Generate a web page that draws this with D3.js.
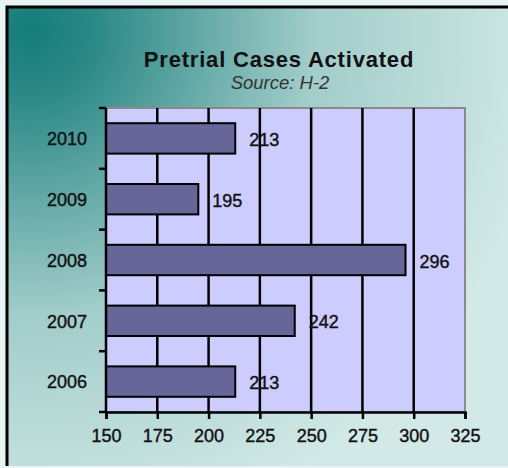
<!DOCTYPE html>
<html>
<head>
<meta charset="utf-8">
<script src="https://cdn.jsdelivr.net/npm/d3@7"></script>
<style>
  body { margin: 0; background: #ffffff; }
  svg { display: block; }
  text { font-family: Arial, "Liberation Sans", sans-serif; }
</style>
</head>
<body>
<div id="chart"></div>
<script>
// chart values
var years = ["2010", "2009", "2008", "2007", "2006"];
var cases = [213, 195, 296, 242, 213];
var xTicks = [150, 175, 200, 225, 250, 275, 300, 325];

var width = 508, height = 468;
var plot = { left: 106, top: 108, right: 465, bottom: 412 };

var svg = d3.select("#chart")
    .append("svg")
    .attr("width", width)
    .attr("height", height);

// background gradient
var defs = svg.append("defs");
var grad = defs.append("radialGradient")
    .attr("id", "bg")
    .attr("gradientUnits", "userSpaceOnUse")
    .attr("cx", 30).attr("cy", 30).attr("r", 520);
grad.append("stop").attr("offset", "0").attr("stop-color", "#157d7a");
grad.append("stop").attr("offset", "0.12").attr("stop-color", "#2a8885");
grad.append("stop").attr("offset", "0.55").attr("stop-color", "#a2cdca");
grad.append("stop").attr("offset", "1").attr("stop-color", "#d2e9e7");

svg.append("rect")
    .attr("x", 0).attr("y", 0)
    .attr("width", width).attr("height", height)
    .style("fill", "#e8f4f3");

svg.append("rect")
    .attr("x", 8).attr("y", 8)
    .attr("width", width - 8).attr("height", 458)
    .style("fill", "url(#bg)");

// outer border (top and left only visible)
svg.append("path")
    .attr("d", "M7,466V7H" + width)
    .style("fill", "none")
    .style("stroke", "#000")
    .style("stroke-width", 3);

// title
svg.append("text")
    .attr("x", 279).attr("y", 67)
    .attr("text-anchor", "middle")
    .style("font-size", "22px")
    .style("font-weight", "bold")
    .style("letter-spacing", "0.8px")
    .style("fill", "#111")
    .text("Pretrial Cases Activated");

svg.append("text")
    .attr("x", 280).attr("y", 89)
    .attr("text-anchor", "middle")
    .style("font-size", "18.5px")
    .style("font-style", "italic")
    .style("fill", "#333")
    .text("Source: H-2");

// scales
var x = d3.scaleLinear()
    .domain([150, 325])
    .range([plot.left, plot.right]);

var y = d3.scaleBand()
    .domain(years)
    .range([plot.top, plot.bottom])
    .paddingInner(0.5)
    .paddingOuter(0.25);

// plot area
svg.append("rect")
    .attr("x", plot.left).attr("y", plot.top)
    .attr("width", plot.right - plot.left)
    .attr("height", plot.bottom - plot.top)
    .style("fill", "#ccccff")
    .style("stroke", "#8a8a8a")
    .style("stroke-width", 2);

// vertical gridlines
svg.selectAll(".grid")
    .data(xTicks.slice(1, -1))
    .enter().append("line")
    .attr("class", "grid")
    .attr("x1", function(d) { return x(d); })
    .attr("x2", function(d) { return x(d); })
    .attr("y1", plot.top)
    .attr("y2", plot.bottom)
    .style("stroke", "#000")
    .style("stroke-width", 2.5);

// bars
svg.selectAll(".bar")
    .data(cases)
    .enter().append("rect")
    .attr("class", "bar")
    .attr("x", x(150))
    .attr("y", function(d, i) { return y(years[i]); })
    .attr("width", function(d) { return x(d) - x(150); })
    .attr("height", y.bandwidth())
    .style("fill", "#666699")
    .style("stroke", "#000")
    .style("stroke-width", 2);

// value labels
svg.selectAll(".val")
    .data(cases)
    .enter().append("text")
    .attr("class", "val")
    .attr("x", function(d) { return x(d) + 14; })
    .attr("y", function(d, i) { return y(years[i]) + y.bandwidth() / 2; })
    .attr("dy", "0.42em")
    .style("font-size", "18px")
    .style("fill", "#111")
    .style("stroke", "#111")
    .style("stroke-width", 0.4)
    .text(function(d) { return d; });

// x axis
var xAxis = svg.append("g")
    .attr("transform", "translate(0," + plot.bottom + ")")
    .call(d3.axisBottom(x).tickValues(xTicks).tickSize(7).tickPadding(10));
xAxis.select(".domain").style("stroke", "#000").style("stroke-width", 2.5);
xAxis.selectAll(".tick line").style("stroke", "#000").style("stroke-width", 2.5);
xAxis.selectAll(".tick text")
    .style("font-size", "18px")
    .style("font-family", "Arial, 'Liberation Sans', sans-serif")
    .style("fill", "#111")
    .style("stroke", "#111")
    .style("stroke-width", 0.4);

// y axis: ticks at band boundaries
var yAxis = svg.append("g")
    .attr("transform", "translate(" + plot.left + ",0)");
yAxis.append("line")
    .attr("x1", 0).attr("x2", 0)
    .attr("y1", plot.top).attr("y2", plot.bottom)
    .style("stroke", "#000")
    .style("stroke-width", 2.5);
var bounds = d3.range(years.length + 1).map(function(i) { return plot.top + i * (plot.bottom - plot.top) / years.length; });
yAxis.selectAll(".ytick")
    .data(bounds)
    .enter().append("line")
    .attr("class", "ytick")
    .attr("x1", -7).attr("x2", 0)
    .attr("y1", function(d) { return d; })
    .attr("y2", function(d) { return d; })
    .style("stroke", "#000")
    .style("stroke-width", 2.5);
yAxis.selectAll(".ylab")
    .data(years)
    .enter().append("text")
    .attr("class", "ylab")
    .attr("x", -19)
    .attr("y", function(d) { return y(d) + y.bandwidth() / 2; })
    .attr("dy", "0.38em")
    .attr("text-anchor", "end")
    .style("font-size", "18px")
    .style("fill", "#111")
    .style("stroke", "#111")
    .style("stroke-width", 0.4)
    .text(function(d) { return d; });
</script>
</body>
</html>
